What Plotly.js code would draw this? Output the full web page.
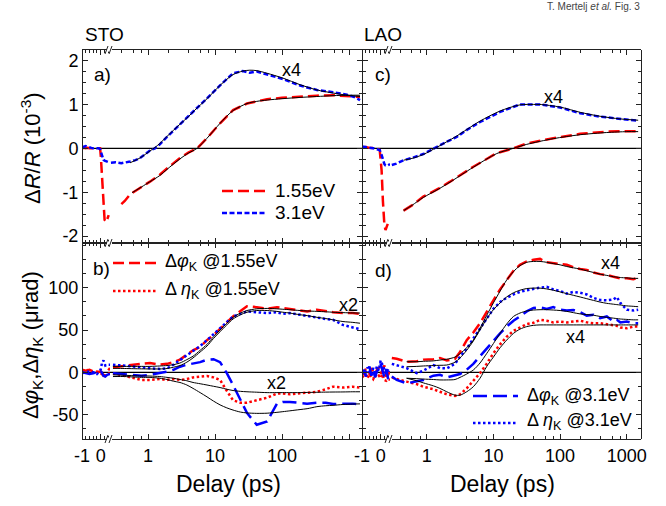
<!DOCTYPE html>
<html><head><meta charset="utf-8">
<script src="https://cdn.plot.ly/plotly-3.0.1.min.js"></script>
<style>body{margin:0;background:#fff}#chart{width:666px;height:506px}</style>
</head><body><div id="chart"></div>
<script>
// ---------------- DATA ----------------
// Panel a (STO, ΔR/R in 1e-3) : 1.55 eV and 3.1 eV (x4)
const delayLinA = [-1, -0.9, -0.8, -0.7, -0.6, -0.5, -0.4, -0.3, -0.2, -0.1, -0.03, 0.01, 0.05, 0.1, 0.15, 0.21, 0.3, 0.36, 0.43, 0.5];
const refl155LinA = [0, 0.01, 0, 0.01, 0, 0, 0.01, 0, 0, 0, 0, -0.19, -0.5, -0.8, -1.33, -1.63, -1.68, -1.6, -1.52, null];
const refl31LinA = [0.02, 0.04, 0.05, 0.04, 0.02, 0.01, 0, 0.01, 0, 0, -0.02, -0.08, -0.15, -0.22, -0.26, -0.28, -0.3, -0.31, -0.32, -0.33];
const delayLogA155 = [0.4, 0.45, 0.54, 0.6, 0.8, 1.07, 1.5, 1.92, 3.0, 4.0, 5.4, 7.6, 11.9, 18.6, 30, 42, 60, 100, 186, 330, 577, 1000, 1460];
const refl155LogA = [-1.27, -1.2, -1.05, -1.0, -0.88, -0.76, -0.6, -0.46, -0.22, -0.1, 0, 0.23, 0.57, 0.87, 1.02, 1.07, 1.12, 1.15, 1.18, 1.2, 1.21, 1.19, 1.17];
const delayFitA155 = [0.58, 0.8, 1.07, 1.5, 1.92, 3.0, 4.0, 5.4, 7.6, 11.9, 18.6, 30, 42, 60, 100, 186, 330, 577, 1000, 1460];
const fit155A = [-1.01, -0.88, -0.76, -0.62, -0.48, -0.24, -0.11, 0, 0.23, 0.57, 0.86, 1.02, 1.07, 1.1, 1.13, 1.16, 1.18, 1.2, 1.21, 1.21];
const delayLogA31 = [0.28, 0.33, 0.4, 0.47, 0.54, 0.65, 0.76, 0.9, 1.07, 1.27, 1.5, 1.92, 2.4, 3.0, 4.0, 5.0, 7.6, 12, 18.6, 26, 33, 42, 60, 103, 186, 332, 577, 933, 1200, 1460];
const refl31LogA = [-0.33, -0.32, -0.34, -0.31, -0.3, -0.27, -0.22, -0.14, -0.05, 0, 0.09, 0.26, 0.4, 0.55, 0.72, 0.88, 1.14, 1.44, 1.71, 1.76, 1.72, 1.75, 1.68, 1.58, 1.43, 1.33, 1.28, 1.22, 1.17, 1.1];
const delayFitA31 = [0.54, 0.76, 1.07, 1.27, 1.5, 1.92, 3.0, 4.0, 5.0, 7.6, 12, 18.6, 26, 33, 42, 60, 103, 186, 332, 577, 933, 1460];
const fit31A = [-0.33, -0.22, -0.06, 0.02, 0.11, 0.27, 0.55, 0.72, 0.87, 1.13, 1.44, 1.68, 1.76, 1.78, 1.77, 1.71, 1.6, 1.45, 1.33, 1.26, 1.21, 1.18];

// Panel c (LAO, ΔR/R)
const delayLinC = [-1, -0.8, -0.6, -0.4, -0.2, -0.05, 0.05, 0.12, 0.2, 0.26, 0.32, 0.38, 0.45, 0.5];
const refl155LinC = [0.02, 0.03, 0.01, 0, 0, -0.04, -0.5, -1.2, -1.75, -1.86, -1.8, -1.72, null, null];
const refl31LinC = [0.04, 0.03, 0.02, 0, -0.02, -0.04, -0.15, -0.28, -0.36, -0.39, -0.4, -0.39, -0.37, -0.36];
const delayLogC31 = [0.3, 0.35, 0.45, 0.6, 0.89, 1.41, 2.0, 2.82, 4.0, 6.3, 12.6, 25, 50, 100, 200, 398, 794, 1480];
const refl31LogC = [-0.38, -0.35, -0.27, -0.22, -0.13, 0.04, 0.15, 0.26, 0.42, 0.6, 0.83, 1.0, 1.0, 0.93, 0.8, 0.72, 0.68, 0.63];
const delayFitC31 = [0.45, 0.6, 0.89, 1.41, 2.0, 2.82, 4.0, 6.3, 12.6, 25, 40, 50, 100, 200, 398, 794, 1480];
const fit31C = [-0.27, -0.23, -0.14, 0.02, 0.15, 0.28, 0.43, 0.62, 0.85, 0.99, 1.0, 1.0, 0.94, 0.82, 0.73, 0.67, 0.64];
const delayLogC155 = [0.45, 0.6, 0.89, 1.5, 2.24, 5.0, 11.2, 20, 31.6, 79, 200, 500, 1000, 1480];
const refl155LogC = [-1.42, -1.3, -1.1, -0.92, -0.76, -0.42, -0.11, 0, 0.11, 0.23, 0.33, 0.38, 0.39, 0.39];
const fit155C = [-1.42, -1.3, -1.12, -0.93, -0.77, -0.43, -0.12, 0, 0.09, 0.22, 0.31, 0.36, 0.38, 0.38];

// Panel b (STO, Kerr, µrad)
const delayLinB = [-1, -0.8, -0.6, -0.4, -0.2, 0, 0.07, 0.15, 0.25, 0.35, 0.5];
const phi155LinB = [3, 2, 3, 1, 0, 1, -1, -4, -3, 1, 5];
const eta155LinB = [1, 3, 2, 0, 1, -1, -2, -5, -4, -2, -1];
const phi31LinB = [0, -1, -2, -1, 0, 2, -1, -4, -5, -3, -2];
const eta31LinB = [-1, 0, 1, 0, -2, 3, 11, 14, 8, 9, 9];
const delayLogB = [0.3, 0.45, 0.6, 0.8, 1.07, 1.5, 1.92, 2.4, 3.0, 3.8, 4.7, 6.0, 7.6, 9.5, 11.9, 15, 18.6, 24, 30, 42, 60, 84, 103, 131, 186, 237, 332, 450, 577, 812, 1140, 1460];
const phi155LogB = [6, 8, 9, 10, 11, 9, 10, 12, 15, 21, 26, 30, 38, 44, 52, 59, 66, 72, 78, 77, 75, 77, 76, 74, 73, 72, 74, 72, 71, 70, 70, 69];
const fitPhi155B = [7, 7, 7, 7, 7, 7.5, 8, 9, 11, 15, 19, 26, 33, 42, 50, 58, 65, 70, 73, 75, 75.5, 75, 74.5, 74, 73, 72.5, 72, 71.5, 71, 70.5, 70.2, 70];
const eta31LogB = [9, 8, 7.4, 6, 4.7, 4, 4.7, 9, 14.5, 20, 26, 31, 38, 45, 53, 60, 66, 69, 72, 71, 70, 71, 69, 70, 68, 66, 64, 63, 62, 56, 53, 51];
const fitEta31B = [4.7, 4.5, 4.3, 4.1, 4, 4, 4.5, 6, 8, 12, 17, 24, 31, 40, 48, 56, 63, 68, 71, 73, 73, 72, 71, 70, 68, 67, 65, 63.5, 62, 60, 59, 58];
const phi31LogB = [-1, -2, -3, -4, -3, -1, 0.7, 3, 6.6, 9, 10.6, 12, 15, 15.5, 12, -1, -15, -32, -48, -62, -58, -37, -35, -35, -36, -37, -36, -36, -37.5, -37, -37, -38];
const fitPhi31B = [-5, -5, -5.5, -6, -6, -7, -8.5, -10.5, -12, -15, -19, -24, -29, -34, -38.5, -42, -44.6, -47, -48, -48.5, -48.3, -47.3, -46.5, -45.5, -44, -43, -40.6, -39.5, -39, -38, -37.5, -37.3];
const eta155LogB = [-1, -4, -7, -9, -9, -8, -9, -8, -9, -8, -6, -5, -4.4, -6, -9, -22, -33, -36, -36, -33, -30, -25, -25, -26, -25, -24, -23, -20, -17, -18, -17, -18];
const fitEta155B = [-3, -3.5, -4, -4.2, -4.4, -5, -6, -7, -8.5, -10, -12, -13.5, -15, -16.5, -18, -20, -21.5, -22.5, -23, -23.5, -24, -24, -24, -24, -24, -23.8, -23.6, -23.4, -23.3, -23.2, -23, -23];

// Panel d (LAO, Kerr, µrad)
const delayLinD = [-1, -0.9, -0.8, -0.7, -0.6, -0.5, -0.4, -0.3, -0.2, -0.1, 0, 0.1, 0.2, 0.3, 0.4, 0.5];
const phi155LinD = [2, -3, 4, 0, -2, 5, 1, -4, 3, 6, -2, 4, 8, -5, -3, 2];
const eta31LinD = [0, 4, -2, 6, 1, -3, 5, 0, 7, 2, 14, 9, 3, -2, 4, 1];
const phi31LinD = [-2, 3, -5, 2, 7, -4, 3, -6, 1, 5, 10, 2, -6, 4, -8, -5];
const eta155LinD = [-4, -6, -3, -7, -2, -5, -8, -3, -6, -4, -7, -2, -9, -10, -8, -9];
const delayLogD = [0.3, 0.355, 0.5, 0.71, 0.89, 1.26, 1.58, 2.0, 2.66, 3.16, 3.98, 5.0, 6.3, 7.9, 10, 12.6, 15.8, 20, 25, 31.6, 40, 50, 63, 79, 100, 126, 158, 200, 251, 316, 398, 501, 631, 708, 800, 1000, 1250, 1480];
const phi155LogD = [17, 16, 12.5, 13, 15, 15.4, 17, 14, 16, 24, 38, 47, 58, 72, 85, 98, 109, 120, 127, 131, 133, 134, 130, 129, 128, 127, 124, 122, 121, 118, 116, 115, 113, 112, 111, 111, 110, 112];
const fitPhi155D = [null, null, 12.5, 12.5, 13, 13.5, 14.5, 15.5, 18, 22, 29, 38, 52, 67, 82, 96, 109, 119, 126, 130, 131, 131, 130, 128.5, 127, 125, 123.5, 122, 120, 118, 116, 114.5, 113, 112.5, 112, 111.5, 111, 111];
const eta31LogD = [10, 8.6, 5, -1, 2, 8.6, 5, 4.7, 10, 18.5, 28, 40, 52, 64, 75, 83, 88, 92, 95, 97, 99, 100, 101, 98, 96, 93, 95, 94, 92, 88, 85.5, 85, 86, 89, 82, 74, 73, 74];
const fitEta31D = [null, null, 6.6, 7, 7.5, 8, 8.3, 8.6, 12, 17, 26, 37, 50, 63, 74, 82, 89, 94, 97, 99, 99.5, 99.5, 98.5, 97, 95, 93, 91, 89, 87, 85, 83, 81.5, 80.5, 80, 79.5, 78.5, 78, 77.5];
const phi31LogD = [-5, -9, -13, -11, -9, -4, -3, -6, -4, -2, 3, 10, 19, 28, 38, 46, 54, 61, 66, 72, 76, 77, 75, 77, 74, 73, 73.6, 71, 67, 68, 64, 66, 60, 62, 59, 60, 58, 58];
const fitPhi31D = [null, null, -7, -7.5, -8, -8.5, -9, -9, -8.5, -6, -2, 2.7, 11, 22, 34, 46, 57, 66, 70, 72.5, 73.6, 74, 74, 73.6, 73, 72, 70.5, 69, 68.2, 67.5, 66, 65, 64, 63.5, 63, 62.5, 62, 62];
const eta155LogD = [-6, -8, -11, -14, -17, -20, -23, -26, -28, -26, -19, -10, -1, 10, 22.5, 33, 42, 49, 53, 57, 58.6, 62, 61, 59, 60, 59, 60, 61, 59, 58, 58, 57, 56, 55, 53, 52, 54, 54];
const fitEta155D = [null, null, -7, -10, -12.5, -16, -19, -23, -27, -27, -23, -17, -7, 6.6, 18, 29, 38, 46, 51, 54, 55.5, 56, 56, 56, 56, 56, 56, 56, 56, 56, 56, 56, 56, 56, 56, 56, 56, 56];

// Tick labels
const linTickVals = [-1, 0];
const linTickText = ['-1', '0'];
const logTickVals = [1, 10, 100, 1000];
const logTickTextLeft = ['1', '10', '100', ''];
const logTickTextRight = ['1', '10', '100', '1000'];
const logMinorVals = [0.4, 0.6, 0.8, 2, 4, 6, 8, 20, 40, 60, 80, 200, 400, 600, 800];
const reflTickVals = [-2, -1, 0, 1, 2];
const reflTickText = ['-2', '-1', '0', '1', '2'];
const kerrTickVals = [-50, 0, 50, 100];
const kerrTickText = ['-50', '0', '50', '100'];

// ---------------- LAYOUT HELPERS ----------------
const FONT = 'Liberation Sans, Arial, sans-serif';
const L = 82, R = 641, T = 50, B = 439, W = R - L, H = B - T;
const xp = px => (px - L) / W, yp = py => (B - py) / H;
const MIDX = 362, MIDY = 243, BRK_L = 110, BRK_R = 390;
const RED = '#ff0000', BLUE = '#0000ff', AX = '#222';
const DASH_R = '11px,5px', DASH_B = '5px,2.5px', DOT = '2.5px,2.5px', LDASH_B = '14px,6px';

function tr(x, y, xa, ya, color, dash, width, shape) {
  return {type: 'scatter', mode: 'lines', x: x, y: y, xaxis: xa, yaxis: ya,
    line: {color: color, dash: dash, width: width, shape: shape || 'linear', smoothing: 0.8},
    hoverinfo: 'skip', connectgaps: false, showlegend: false};
}
function fit(x, y, xa, ya) { return tr(x, y, xa, ya, '#000', 'solid', 1, 'spline'); }

const traces = [
  // a
  tr(delayLinA, refl155LinA, 'x', 'y', RED, DASH_R, 2.5),
  tr(delayLinA, refl31LinA, 'x', 'y', BLUE, DASH_B, 2.5),
  tr(delayLogA155, refl155LogA, 'x2', 'y', RED, DASH_R, 2.5),
  tr(delayLogA31, refl31LogA, 'x2', 'y', BLUE, DASH_B, 2.5),
  fit(delayFitA155, fit155A, 'x2', 'y'),
  fit(delayFitA31, fit31A, 'x2', 'y'),
  // b
  tr(delayLinB, phi155LinB, 'x3', 'y2', RED, DASH_R, 2.5),
  tr(delayLinB, eta155LinB, 'x3', 'y2', RED, DOT, 2.5),
  tr(delayLinB, phi31LinB, 'x3', 'y2', BLUE, LDASH_B, 2.5),
  tr(delayLinB, eta31LinB, 'x3', 'y2', BLUE, DOT, 2.5),
  tr(delayLogB, phi155LogB, 'x4', 'y2', RED, DASH_R, 2.5),
  tr(delayLogB, eta155LogB, 'x4', 'y2', RED, DOT, 2.5),
  tr(delayLogB, phi31LogB, 'x4', 'y2', BLUE, LDASH_B, 2.5),
  tr(delayLogB, eta31LogB, 'x4', 'y2', BLUE, DOT, 2.5),
  fit(delayLogB, fitPhi155B, 'x4', 'y2'),
  fit(delayLogB, fitEta155B, 'x4', 'y2'),
  fit(delayLogB, fitPhi31B, 'x4', 'y2'),
  fit(delayLogB, fitEta31B, 'x4', 'y2'),
  // c
  tr(delayLinC, refl155LinC, 'x5', 'y3', RED, DASH_R, 2.5),
  tr(delayLinC, refl31LinC, 'x5', 'y3', BLUE, DASH_B, 2.5),
  tr(delayLogC155, refl155LogC, 'x6', 'y3', RED, DASH_R, 2.5),
  tr(delayLogC31, refl31LogC, 'x6', 'y3', BLUE, DASH_B, 2.5),
  fit(delayLogC155, fit155C, 'x6', 'y3'),
  fit(delayFitC31, fit31C, 'x6', 'y3'),
  // d
  tr(delayLinD, phi155LinD, 'x7', 'y4', RED, DASH_R, 2.5),
  tr(delayLinD, eta155LinD, 'x7', 'y4', RED, DOT, 2.5),
  tr(delayLinD, phi31LinD, 'x7', 'y4', BLUE, LDASH_B, 2.5),
  tr(delayLinD, eta31LinD, 'x7', 'y4', BLUE, DOT, 2.5),
  tr(delayLogD, phi155LogD, 'x8', 'y4', RED, DASH_R, 2.5),
  tr(delayLogD, eta155LogD, 'x8', 'y4', RED, DOT, 2.5),
  tr(delayLogD, phi31LogD, 'x8', 'y4', BLUE, LDASH_B, 2.5),
  tr(delayLogD, eta31LogD, 'x8', 'y4', BLUE, DOT, 2.5),
  fit(delayLogD, fitPhi155D, 'x8', 'y4'),
  fit(delayLogD, fitEta155D, 'x8', 'y4'),
  fit(delayLogD, fitPhi31D, 'x8', 'y4'),
  fit(delayLogD, fitEta31D, 'x8', 'y4'),
  // empty traces for the mirrored right-side y axes
  {type: 'scatter', mode: 'lines', x: [], y: [], xaxis: 'x2', yaxis: 'y5', showlegend: false},
  {type: 'scatter', mode: 'lines', x: [], y: [], xaxis: 'x4', yaxis: 'y6', showlegend: false},
  {type: 'scatter', mode: 'lines', x: [], y: [], xaxis: 'x6', yaxis: 'y7', showlegend: false},
  {type: 'scatter', mode: 'lines', x: [], y: [], xaxis: 'x8', yaxis: 'y8', showlegend: false}
];

const tickFont = {family: FONT, size: 18, color: '#000'};
const common = {ticks: 'inside', ticklen: 5, tickwidth: 1, tickcolor: AX, showline: true,
  linecolor: AX, linewidth: 1, showgrid: false, zeroline: false, tickfont: tickFont, fixedrange: true};
const minorTick = {ticks: 'inside', ticklen: 3, tickwidth: 1, tickcolor: AX, showgrid: false};

function xLin(domain, anchor, labels) {
  return Object.assign({}, common, {domain: domain, anchor: anchor, type: 'linear', range: [-1, 0.5],
    tickmode: 'array', tickvals: linTickVals, ticktext: linTickText, showticklabels: labels,
    mirror: 'ticks', minor: Object.assign({tickmode: 'linear', tick0: 0, dtick: 0.2}, minorTick)});
}
function xLog(domain, anchor, range, text, labels) {
  return Object.assign({}, common, {domain: domain, anchor: anchor, type: 'log', range: range,
    tickmode: 'array', tickvals: logTickVals, ticktext: text, showticklabels: labels,
    mirror: 'ticks', minor: Object.assign({tickmode: 'array', tickvals: logMinorVals}, minorTick)});
}
function yAx(domain, range, vals, text, pos, side, labels, minorDtick, overlay) {
  const o = Object.assign({}, common, {domain: domain, range: range, anchor: 'free', position: pos, side: side,
    tickmode: 'array', tickvals: vals, ticktext: text, showticklabels: labels, mirror: false,
    minor: Object.assign({tickmode: 'linear', tick0: 0, dtick: minorDtick}, minorTick)});
  if (overlay) { o.overlaying = overlay; delete o.domain; }
  return o;
}

const leftLin = [0, xp(BRK_L)], leftLog = [xp(BRK_L), xp(MIDX)];
const rightLin = [xp(MIDX), xp(BRK_R)], rightLog = [xp(BRK_R), 1];
const topDom = [yp(MIDY), 1], botDom = [0, yp(MIDY)];
const leftLogRange = [(BRK_L - 148) / 67, (MIDX - 148) / 67];
const rightLogRange = [(BRK_R - 426.7) / 66.7, (R - 426.7) / 66.7];
const reflRange = [-2.157, 2.24], kerrRange = [-78.8, 152.8];

// shapes
const shapes = [];
[['y', 0, xp(MIDX)], ['y2', 0, xp(MIDX)], ['y3', xp(MIDX), 1], ['y4', xp(MIDX), 1]].forEach(function (s) {
  shapes.push({type: 'line', xref: 'paper', yref: s[0], x0: s[1], x1: s[2], y0: 0, y1: 0,
    line: {color: '#000', width: 1.3}, layer: 'below'});
});
[BRK_L, BRK_R].forEach(function (bx) {
  [T, MIDY, B].forEach(function (by) {
    shapes.push({type: 'rect', xref: 'paper', yref: 'paper', x0: xp(bx - 3), x1: xp(bx + 2),
      y0: yp(by + 1.6), y1: yp(by - 1.6), fillcolor: '#fff', line: {width: 0}});
    shapes.push({type: 'line', xref: 'paper', yref: 'paper', x0: xp(bx - 5), y0: yp(by + 4),
      x1: xp(bx - 2), y1: yp(by - 4), line: {color: AX, width: 1}});
    shapes.push({type: 'line', xref: 'paper', yref: 'paper', x0: xp(bx - 1), y0: yp(by + 4),
      x1: xp(bx + 2), y1: yp(by - 4), line: {color: AX, width: 1}});
  });
});
function legLine(x0, x1, py, color, dash) {
  shapes.push({type: 'line', xref: 'paper', yref: 'paper', x0: xp(x0), x1: xp(x1), y0: yp(py), y1: yp(py),
    line: {color: color, dash: dash, width: 2.5}});
}
legLine(222, 267, 191, RED, DASH_R);
legLine(222, 267, 213, BLUE, DASH_B);
legLine(113, 160, 263, RED, DASH_R);
legLine(113, 157, 291, RED, DOT);
legLine(473, 518, 396, BLUE, LDASH_B);
legLine(473, 518, 423, BLUE, DOT);

function ann(text, px, py, o) {
  return Object.assign({text: text, x: xp(px), y: yp(py), xref: 'paper', yref: 'paper', showarrow: false,
    xanchor: 'center', yanchor: 'middle', font: {family: FONT, size: 18, color: '#000'}}, o || {});
}
const f19 = {family: FONT, size: 19, color: '#000'};
const annotations = [
  ann('STO', 83, 35, {xanchor: 'left', font: f19}),
  ann('LAO', 362, 35, {xanchor: 'left', font: f19}),
  ann('T. Mertelj <i>et al.</i> Fig. 3', 642, 7, {xanchor: 'right', font: {family: FONT, size: 10, color: '#444'}}),
  ann('a)', 92, 74, {xanchor: 'left', font: f19}),
  ann('b)', 91, 268, {xanchor: 'left', font: f19}),
  ann('c)', 373, 74, {xanchor: 'left', font: f19}),
  ann('d)', 373, 270, {xanchor: 'left', font: f19}),
  ann('x4', 291, 70), ann('x4', 553, 97), ann('x2', 348, 305), ann('x2', 276, 383),
  ann('x4', 610, 263), ann('x4', 575, 337),
  ann('1.55eV', 273, 190, {xanchor: 'left', font: f19}),
  ann('3.1eV', 273, 212, {xanchor: 'left', font: f19}),
  ann('Δ<i>φ</i><sub>K</sub> @1.55eV', 163, 262, {xanchor: 'left'}),
  ann('Δ <i>η</i><sub>K</sub> @1.55eV', 163, 290, {xanchor: 'left'}),
  ann('Δ<i>φ</i><sub>K</sub> @3.1eV', 525, 396, {xanchor: 'left'}),
  ann('Δ <i>η</i><sub>K</sub> @3.1eV', 525, 421, {xanchor: 'left'}),
  ann('Δ<i>R</i>/<i>R</i> (10<sup>-3</sup>)', 31, 148, {textangle: -90, font: {family: FONT, size: 22, color: '#000'}}),
  ann('Δ<i>φ</i><sub>K</sub>,Δ<i>η</i><sub>K</sub> (μrad)', 32, 345, {textangle: -90, font: {family: FONT, size: 22, color: '#000'}}),
  ann('Delay (ps)', 228, 484, {font: {family: FONT, size: 23, color: '#000'}}),
  ann('Delay (ps)', 502, 484, {font: {family: FONT, size: 23, color: '#000'}})
];

const layout = {
  width: 666, height: 506, margin: {l: L, r: 666 - R, t: T, b: 506 - B, pad: 0},
  paper_bgcolor: '#fff', plot_bgcolor: 'rgba(0,0,0,0)', showlegend: false,
  font: {family: FONT, size: 18, color: '#000'},
  xaxis: xLin(leftLin, 'y', false),
  xaxis2: xLog(leftLog, 'y', leftLogRange, logTickTextLeft, false),
  xaxis3: xLin(leftLin, 'y2', true),
  xaxis4: xLog(leftLog, 'y2', leftLogRange, logTickTextLeft, true),
  xaxis5: xLin(rightLin, 'y3', false),
  xaxis6: xLog(rightLog, 'y3', rightLogRange, logTickTextRight, false),
  xaxis7: xLin(rightLin, 'y4', true),
  xaxis8: xLog(rightLog, 'y4', rightLogRange, logTickTextRight, true),
  yaxis: yAx(topDom, reflRange, reflTickVals, reflTickText, 0, 'left', true, 0.25),
  yaxis2: yAx(botDom, kerrRange, kerrTickVals, kerrTickText, 0, 'left', true, 50 / 3),
  yaxis3: yAx(topDom, reflRange, reflTickVals, reflTickText, xp(MIDX), 'left', false, 0.25),
  yaxis4: yAx(botDom, kerrRange, kerrTickVals, kerrTickText, xp(MIDX), 'left', false, 50 / 3),
  yaxis5: yAx(topDom, reflRange, reflTickVals, reflTickText, xp(MIDX), 'right', false, 0.25, 'y'),
  yaxis6: yAx(botDom, kerrRange, kerrTickVals, kerrTickText, xp(MIDX), 'right', false, 50 / 3, 'y2'),
  yaxis7: yAx(topDom, reflRange, reflTickVals, reflTickText, 1, 'right', false, 0.25, 'y3'),
  yaxis8: yAx(botDom, kerrRange, kerrTickVals, kerrTickText, 1, 'right', false, 50 / 3, 'y4'),
  shapes: shapes,
  annotations: annotations
};

Plotly.newPlot('chart', traces, layout, {staticPlot: true, displayModeBar: false});
</script>
</body></html>
